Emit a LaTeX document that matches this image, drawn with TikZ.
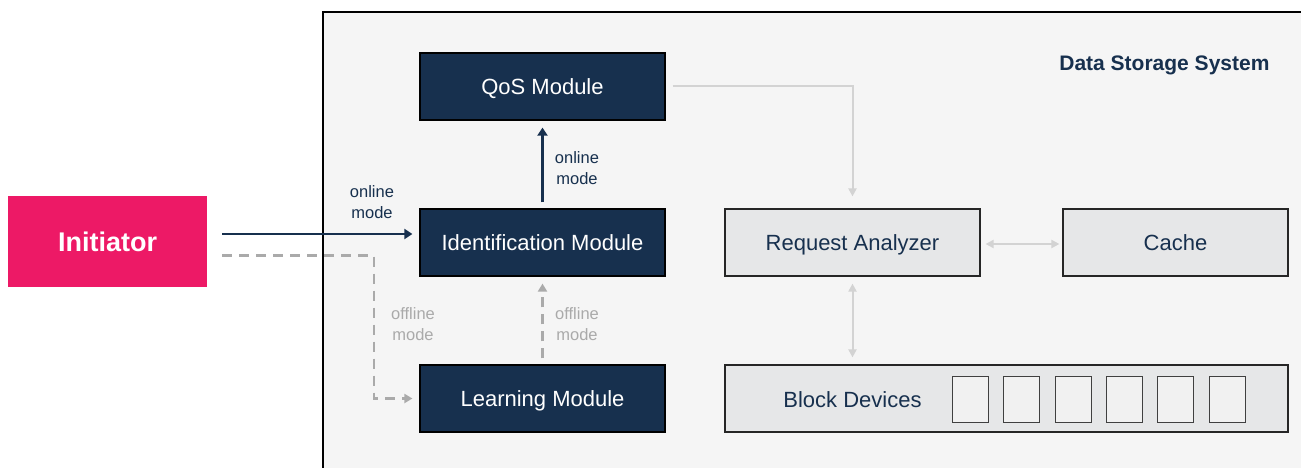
\documentclass[tikz,border=0pt]{standalone}
\usepackage{fontspec}
\setmainfont{Liberation Sans}
\usetikzlibrary{arrows.meta}
\definecolor{navy}{HTML}{17304E}
\definecolor{pinkred}{HTML}{ED1966}
\definecolor{panel}{HTML}{F5F5F5}
\definecolor{lightbox}{HTML}{E6E7E8}
\definecolor{slotfill}{HTML}{F1F1F1}
\definecolor{dashgray}{HTML}{AAAAAA}
\definecolor{softgray}{HTML}{D3D3D3}
\tikzset{
  darkbox/.style={draw=black, line width=1.2pt, fill=navy, text=white,
    minimum width=245pt, minimum height=67pt, inner sep=0pt,
    text height=15.8pt, text depth=0pt,
    font=\fontsize{22}{26}\selectfont},
  lightbox/.style={draw=black!85, line width=1.2pt, fill=lightbox, text=navy,
    inner sep=0pt, minimum height=67pt, text height=15.8pt, text depth=0pt,
    font=\fontsize{22}{26}\selectfont},
  slot/.style={draw=black!75, line width=0.9pt, fill=slotfill,
    minimum width=36pt, minimum height=46pt, inner sep=0pt},
  modelabel/.style={align=center, font=\fontsize{16.5}{21}\selectfont, inner sep=0pt},
  online/.style={modelabel, text=navy},
  offline/.style={modelabel, text=dashgray},
  navyarrow/.style={draw=navy, line width=2.4pt, -{Triangle[length=8pt,width=10pt]}},
  dasharrow/.style={draw=dashgray, line width=2.4pt, dash pattern=on 10pt off 7pt,
    -{Triangle[length=8pt,width=9pt]}},
  softarrow/.style={draw=softgray, line width=2pt, -{Triangle[length=8pt,width=8pt]}},
  softboth/.style={draw=softgray, line width=2pt,
    {Triangle[length=8pt,width=8pt]}-{Triangle[length=8pt,width=8pt]}},
}
\begin{document}
\begin{tikzpicture}[x=1pt,y=-1pt]
\useasboundingbox (0,0) rectangle (1301,468);
\fill[white] (0,0) rectangle (1301,468);
% system panel, running off the right and bottom edges
\begin{scope}
  \clip (0,0) rectangle (1301,468);
  \draw[fill=panel, line width=1.2pt] (323,12) rectangle (1320,490);
\end{scope}
\node[font=\bfseries\fontsize{21}{25}\selectfont, text=navy, anchor=east] (dss) at (1273,65.5) {Data Storage System};

% initiator
\node[fill=pinkred, text=white, minimum width=199pt, minimum height=91pt, inner sep=0pt,
  text height=19.4pt, text depth=0pt,
  font=\bfseries\fontsize{27}{31}\selectfont] (init) at (107.5,241.5) {Initiator};

% modules
\node[darkbox] (qos) at (542.5,86.5) {QoS Module};
\node[darkbox] (ident) at (542.5,242.5) {Identification Module};
\node[darkbox] (learn) at (542.5,398.5) {Learning Module};

% storage side
\node[lightbox, minimum width=255pt] (ra) at (852.5,242.5) {Request Analyzer};
\node[lightbox, minimum width=225pt] (cache) at (1175.5,242.5) {Cache};
\node[lightbox, minimum width=563pt] (bd) at (1006.5,398.5) {};
\node[text=navy, font=\fontsize{22}{26}\selectfont, inner sep=0pt,
  text height=15.8pt, text depth=0pt] (bdtext) at (852.5,400) {Block Devices};
\foreach \i in {0,...,5}
  \node[slot] (slot\i) at (970.6+51.3*\i,399.5) {};
\coordinate (bdtop) at (ra.south |- bd.north);

% connectors
\draw[navyarrow] ([shift={(15,-7.5)}]init.east) -- ([shift={(-7,-8.5)}]ident.west);
\coordinate (bend) at (374,330);
\draw[dasharrow] ([shift={(15,14)}]init.east) -| (bend) |- ([xshift=-7pt]learn.west);
\draw[navyarrow] ([shift={(0,-6)}]ident.north) -- ([shift={(0,7)}]qos.south);
\draw[dasharrow] ([shift={(0,-6)}]learn.north) -- ([shift={(0,7)}]ident.south);
\draw[softarrow] ([shift={(7,0)}]qos.east) -| ([shift={(0,-12)}]ra.north);
\draw[softboth] ([shift={(5,1.5)}]ra.east) -- ([shift={(-3,1.5)}]cache.west);
\draw[softboth] ([shift={(0,7)}]ra.south) -- ([shift={(0,-7)}]bdtop);

% mode labels
\node[online] (lblin) at (372,202.5) {online\\mode};
\node[online] (lblup) at (577,168) {online\\mode};
\node[offline] (lbloff) at (413,324.5) {offline\\mode};
\node[offline] (lbllearn) at (577,324.5) {offline\\mode};
\end{tikzpicture}
\end{document}
